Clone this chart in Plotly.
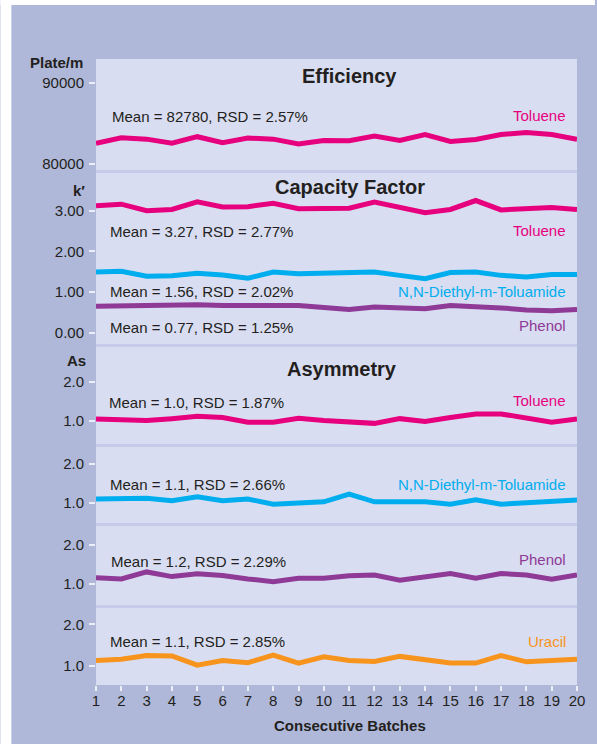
import plotly.graph_objects as go
from plotly.subplots import make_subplots

# data
batches = list(range(1, 21))

eff_toluene = [82560, 83240, 83070, 82560, 83370, 82630, 83200, 83070, 82470, 82900,
               82880, 83460, 82900, 83640, 82780, 83020, 83640, 83890, 83640, 83050]

k_toluene = [3.12, 3.16, 3.00, 3.03, 3.22, 3.09, 3.10, 3.18, 3.05, 3.06,
             3.06, 3.21, 3.08, 2.95, 3.03, 3.25, 3.02, 3.05, 3.08, 3.03]
k_deet = [1.49, 1.51, 1.39, 1.40, 1.46, 1.42, 1.34, 1.49, 1.45, 1.46,
          1.47, 1.49, 1.41, 1.33, 1.48, 1.49, 1.41, 1.37, 1.43, 1.43]
k_phenol = [0.65, 0.66, 0.67, 0.70, 0.69, 0.67, 0.67, 0.66, 0.67, 0.62,
            0.57, 0.63, 0.61, 0.59, 0.67, 0.65, 0.61, 0.56, 0.54, 0.57]

as_toluene = [1.05, 1.03, 1.01, 1.06, 1.12, 1.09, 0.97, 0.97, 1.07, 1.01,
              0.97, 0.94, 1.06, 0.99, 1.09, 1.18, 1.18, 1.08, 0.97, 1.05]
as_deet = [1.10, 1.11, 1.12, 1.06, 1.16, 1.06, 1.10, 0.97, 0.99, 1.03,
           1.23, 1.03, 1.03, 1.03, 0.97, 1.08, 0.97, 1.00, 1.04, 1.08]
as_phenol = [1.16, 1.13, 1.31, 1.19, 1.26, 1.22, 1.13, 1.06, 1.15, 1.15,
             1.21, 1.23, 1.10, 1.19, 1.27, 1.15, 1.27, 1.23, 1.12, 1.23]
as_uracil = [1.13, 1.16, 1.25, 1.24, 1.02, 1.13, 1.08, 1.26, 1.07, 1.22,
             1.13, 1.11, 1.23, 1.14, 1.07, 1.07, 1.25, 1.10, 1.14, 1.16]

stats = ["Mean = 82780, RSD = 2.57%",
         "Mean = 3.27, RSD = 2.77%", "Mean = 1.56, RSD = 2.02%", "Mean = 0.77, RSD = 1.25%",
         "Mean = 1.0, RSD = 1.87%", "Mean = 1.1, RSD = 2.66%",
         "Mean = 1.2, RSD = 2.29%", "Mean = 1.1, RSD = 2.85%"]

MAGENTA = "#e6007e"
CYAN = "#00aeef"
PURPLE = "#8e3a96"
ORANGE = "#f7941d"
OUTER = "#afb8d9"
PANEL = "#d9ddf1"
SEP = "#c5cbe8"
INK = "#231f20"
FONT = "Liberation Sans"

fig = make_subplots(rows=6, cols=1, shared_xaxes=True,
                    vertical_spacing=3 / 626,
                    row_heights=[111, 171, 97, 76, 79, 77])

series = [
    (1, eff_toluene, MAGENTA),
    (2, k_toluene, MAGENTA), (2, k_deet, CYAN), (2, k_phenol, PURPLE),
    (3, as_toluene, MAGENTA), (4, as_deet, CYAN), (5, as_phenol, PURPLE), (6, as_uracil, ORANGE),
]
for row, vals, col in series:
    fig.add_trace(go.Scatter(x=batches, y=vals, mode="lines",
                             line=dict(color=col, width=5), hoverinfo="skip"),
                  row=row, col=1)

ranges = [[79260, 92960], [-0.278, 3.927], [0.415, 2.883],
          [0.487, 2.436], [0.462, 2.487], [0.544, 2.391]]
tickvals = [[80000, 90000], [0, 1, 2, 3], [1, 2], [1, 2], [1, 2], [1, 2]]
fmts = ["d", ".2f", ".1f", ".1f", ".1f", ".1f"]
for i in range(6):
    fig.update_yaxes(range=ranges[i], tickvals=tickvals[i], tickformat=fmts[i],
                     ticks="outside", ticklen=6, tickwidth=2, tickcolor="#eceef8",
                     showgrid=False, zeroline=False, showline=False,
                     tickfont=dict(family=FONT, size=15, color=INK),
                     ticklabelstandoff=2, row=i + 1, col=1)
    fig.update_xaxes(range=[1, 20], showgrid=False, zeroline=False, showline=False,
                     row=i + 1, col=1)
fig.update_xaxes(tickvals=batches, ticks="outside", ticklen=5, tickwidth=2,
                 tickcolor="#eceef8", tickfont=dict(family=FONT, size=15, color=INK),
                 ticklabelstandoff=-3, row=6, col=1)


def px(x):
    return (x - 96) / 483


def py(y):
    return (685 - y) / 626


notes = []


def note(x, y, text, color=INK, size=15, bold=False, anchor="left"):
    if bold:
        text = "<b>" + text + "</b>"
    notes.append(dict(x=px(x), y=py(y), xref="paper", yref="paper", text=text,
                      showarrow=False, xanchor=anchor, yanchor="middle",
                      font=dict(family=FONT, size=size, color=color)))


# panel titles
note(351, 76, "Efficiency", size=20, bold=True, anchor="center")
note(351, 187, "Capacity Factor", size=20, bold=True, anchor="center")
note(343, 369, "Asymmetry", size=20, bold=True, anchor="center")

# axis titles
note(85, 63, "Plate/m", bold=True, anchor="right")
note(87, 190, "k′", bold=True, anchor="right")
note(88, 360, "As", bold=True, anchor="right")
note(351, 726, "Consecutive Batches", bold=True, anchor="center")

# stats text
stat_pos = [(110, 117), (108, 231), (108, 291), (108, 327),
            (107, 402), (108, 484), (109, 561), (108, 641)]
for (x, y), t in zip(stat_pos, stats):
    note(x, y, t)

# compound labels
labels = [(115, "Toluene", MAGENTA), (230, "Toluene", MAGENTA),
          (291, "N,N-Diethyl-m-Toluamide", CYAN), (325, "Phenol", PURPLE),
          (400, "Toluene", MAGENTA), (484, "N,N-Diethyl-m-Toluamide", CYAN),
          (559, "Phenol", PURPLE), (641, "Uracil", ORANGE)]
for y, t, c in labels:
    note(570, y, t, color=c, anchor="right")

# white frame strips and panel separators
shapes = [
    dict(type="rect", xref="paper", yref="paper", x0=px(0), x1=px(11), y0=py(744), y1=py(0),
         fillcolor="white", line_width=0, layer="below"),
    dict(type="rect", xref="paper", yref="paper", x0=px(0), x1=px(597), y0=py(5), y1=py(0),
         fillcolor="white", line_width=0, layer="below"),
]
for top, bot in [(170, 173), (344, 347), (444, 447), (523, 526), (605, 608)]:
    shapes.append(dict(type="rect", xref="paper", yref="paper", x0=0, x1=1,
                       y0=py(bot), y1=py(top), fillcolor=SEP, line_width=0, layer="below"))

fig.update_layout(
    width=597, height=744,
    margin=dict(l=96, r=18, t=59, b=59),
    paper_bgcolor=OUTER, plot_bgcolor=PANEL,
    showlegend=False, hovermode=False,
    annotations=notes, shapes=shapes,
)

fig.write_html("out.html", config={"displayModeBar": False},
               post_script="document.body.style.margin='0';document.body.style.overflow='hidden';")
